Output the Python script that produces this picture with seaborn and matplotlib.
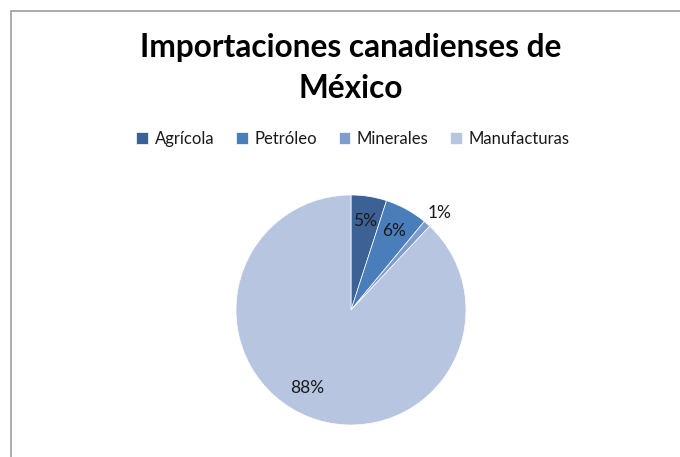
import matplotlib
matplotlib.use("Agg")
import matplotlib.pyplot as plt
import seaborn as sns
import numpy as np
from matplotlib.lines import Line2D

categories = ["Agrícola", "Petróleo", "Minerales", "Manufacturas"]
values = [5, 6, 1, 88]
colors = ["#3B6195", "#4A7EBB", "#7E9DCE", "#B7C5E0"]
title_lines = ["Importaciones canadienses de", "México"]

sns.set_theme(style="white")
plt.rcParams["font.family"] = ["Lato", "DejaVu Sans"]

W, H, DPI = 680, 457, 100
fig = plt.figure(figsize=(W / DPI, H / DPI), dpi=DPI)
fig.patch.set_facecolor("white")

cx, cy, r = 351, 310, 115
ax = fig.add_axes([(cx - r) / W, (H - cy - r) / H, 2 * r / W, 2 * r / H])

wedges, texts, autotexts = ax.pie(
    values, colors=colors, startangle=90, counterclock=False,
    autopct=lambda p: f"{p:.0f}%", pctdistance=0.8,
    wedgeprops=dict(edgecolor="white", linewidth=0.5),
    textprops=dict(fontsize=12.5, color="#1a1a1a"),
)
ax.set_xlim(-1, 1)
ax.set_ylim(-1, 1)
ax.set_aspect("equal")
ax.axis("off")

# Excel-like label placement adjustments (radius factor, angle offset in deg)
adjust = [(0.78, 0), (0.78, 0), (1.14, -1), (0.78, -8)]
for w, t, (rf, da) in zip(wedges, autotexts, adjust):
    ang = np.deg2rad((w.theta1 + w.theta2) / 2 + da)
    t.set_position((rf * np.cos(ang), rf * np.sin(ang)))
    t.set_ha("center")
    t.set_va("center")

fig.text(351 / W, 1 - 47 / H, title_lines[0], ha="center", va="center",
         fontsize=22.8, fontweight="bold", color="black")
fig.text(351 / W, 1 - 88 / H, title_lines[1], ha="center", va="center",
         fontsize=22.8, fontweight="bold", color="black")

leg = fig.legend(wedges, categories, loc="center", ncol=4,
                 bbox_to_anchor=(353 / W, 1 - 139 / H), frameon=False,
                 handlelength=0.7, handleheight=0.7, handletextpad=0.4,
                 columnspacing=1.3, fontsize=12)
for t in leg.get_texts():
    t.set_color("#1a1a1a")

# chart-area border (top and left visible)
border = "#A0A0A0"
fig.add_artist(Line2D([10.5 / W, 10.5 / W], [0, 1 - 11 / H], color=border, lw=1.2,
                      transform=fig.transFigure))
fig.add_artist(Line2D([10.5 / W, 1], [1 - 11 / H, 1 - 11 / H], color=border, lw=1.2,
                      transform=fig.transFigure))

fig.savefig("out.png", dpi=DPI)
